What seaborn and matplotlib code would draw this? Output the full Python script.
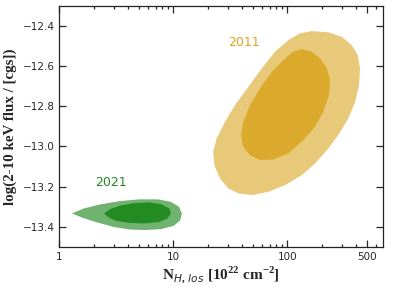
import numpy as np
import seaborn as sns
import matplotlib.pyplot as plt

# contorni: N_H [1e22 cm^-2] e log flux
nh_2011_out = [163.7, 229, 300, 367, 415, 434, 426, 393, 343, 280, 229, 175, 134, 95.5, 68.1, 48.7,
               37.2, 30.3, 25.7, 22.9, 22.4, 24.0, 28.4, 34.8, 45.5, 59.6, 78, 102, 129]
fx_2011_out = [-12.425, -12.431, -12.453, -12.495, -12.545, -12.611, -12.694, -12.778, -12.860, -12.943,
               -13.010, -13.085, -13.143, -13.193, -13.226, -13.243, -13.234, -13.209, -13.160, -13.093,
               -13.027, -12.960, -12.877, -12.794, -12.703, -12.611, -12.528, -12.470, -12.436]
nh_2011_in = [134, 164, 194, 222, 237, 232, 207, 175, 138, 102, 75.3, 57.6, 47.1, 41.1, 39.3, 41.1,
              47.1, 57.6, 73, 95.5, 113]
fx_2011_in = [-12.515, -12.528, -12.561, -12.611, -12.669, -12.744, -12.827, -12.902, -12.969, -13.035,
              -13.065, -13.068, -13.043, -13.002, -12.944, -12.877, -12.794, -12.711, -12.628, -12.561,
              -12.528]

nh_2021_out = [1.29, 1.65, 2.29, 3.37, 4.97, 7.34, 9.51, 11.2, 11.9, 11.5, 10.1, 7.83, 5.66, 4.09,
               2.96, 2.15, 1.60]
fx_2021_out = [-13.334, -13.309, -13.289, -13.273, -13.264, -13.264, -13.276, -13.301, -13.334, -13.368,
               -13.396, -13.412, -13.417, -13.414, -13.401, -13.379, -13.356]
nh_2021_in = [2.47, 2.78, 3.37, 4.37, 6.04, 7.83, 9.20, 9.51, 8.91, 7.58, 5.66, 4.09, 3.16, 2.69]
fx_2021_in = [-13.334, -13.313, -13.296, -13.284, -13.279, -13.288, -13.309, -13.334, -13.359, -13.376,
              -13.384, -13.381, -13.371, -13.354]

years = ['2011', '2021']
colors = ['goldenrod', 'forestgreen']
label_pos = [(41.7, -12.48), (2.85, -13.18)]

sns.set_style('ticks')
plt.rcParams['mathtext.fontset'] = 'custom'
plt.rcParams['mathtext.rm'] = 'Liberation Serif:bold'
plt.rcParams['mathtext.bf'] = 'Liberation Serif:bold'
plt.rcParams['mathtext.it'] = 'DejaVu Sans:italic'

fig = plt.figure(figsize=(3.99, 2.87), dpi=100)
ax = fig.add_axes([0.1486, 0.1404, 0.8121, 0.8386])

ax.fill(nh_2011_out, fx_2011_out, color=colors[0], alpha=0.6, lw=0)
ax.fill(nh_2011_in, fx_2011_in, color=colors[0], alpha=0.88, lw=0)
ax.fill(nh_2021_out, fx_2021_out, color=colors[1], alpha=0.65, lw=0)
ax.fill(nh_2021_in, fx_2021_in, color=colors[1], alpha=1.0, lw=0)

for yr, c, (px, py) in zip(years, colors, label_pos):
    ax.text(px, py, yr, color=c, fontsize=9, ha='center', va='center')

ax.set_xscale('log')
ax.set_xlim(1, 695)
ax.set_ylim(-13.5, -12.3)
ax.set_xticks([1, 10, 100, 500])
ax.set_xticklabels(['1', '10', '100', '500'])
ax.set_yticks([-13.4, -13.2, -13.0, -12.8, -12.6, -12.4])
ax.tick_params(which='both', direction='in', top=True, right=True, labelsize=7.5, width=0.9)
ax.tick_params(which='major', length=5)
ax.tick_params(which='minor', length=2.5)
for s in ax.spines.values():
    s.set_linewidth(0.9)
    s.set_color('#222222')

ax.set_xlabel(r'N$_{H,\,los}$ [10$^{22}$ cm$^{-2}$]', family='Liberation Serif', fontweight='bold',
              fontsize=11, labelpad=2)
ax.set_ylabel('log(2-10 keV flux / [cgs])', family='Liberation Serif', fontweight='bold',
              fontsize=10.8, labelpad=4)

fig.savefig('out.png', dpi=100)
